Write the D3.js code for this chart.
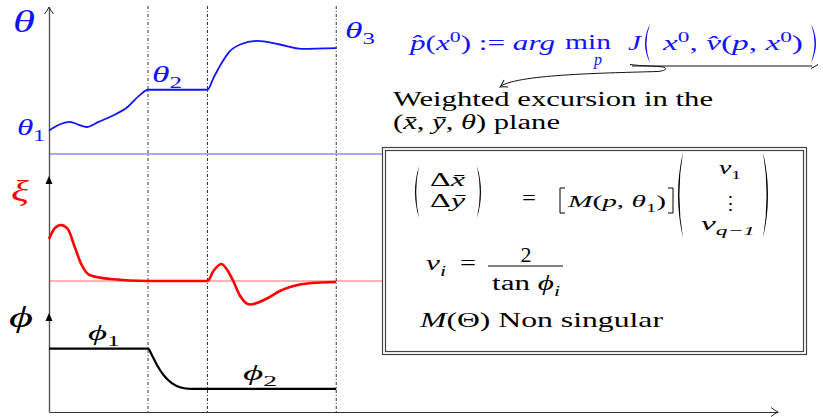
<!DOCTYPE html>
<html><head><meta charset="utf-8">
<script src="https://cdn.jsdelivr.net/npm/d3@7"></script>
<style>html,body{margin:0;padding:0;background:#fff;}svg{display:block;}</style>
</head><body>
<svg id="c" width="823" height="417"></svg>
<script>
// switching instants t1, t2, t3 of the piecewise steering law
const switchTimes = [1.0, 1.6, 2.9];
const timeSpan = [0, 7.36];

// heading angle theta(t)
const thetaTime  = [0, 0.1, 0.21, 0.3, 0.38, 0.5, 0.62, 0.79, 0.92, 1.0, 1.6, 1.66, 1.74, 1.82, 1.93, 2.1, 2.33, 2.55, 2.9];
const thetaValue = [1.6, 2.0, 2.2, 2.0, 1.85, 2.2, 2.55, 3.2, 4.05, 4.4, 4.4, 5.2, 6.2, 7.0, 7.5, 7.75, 7.5, 7.2, 7.25];

// excursion xi(t)
const xiTime  = [0, 0.06, 0.12, 0.19, 0.26, 0.33, 0.41, 0.62, 1.0, 1.6, 1.66, 1.74, 1.8, 1.86, 1.93, 2.03, 2.2, 2.33, 2.45, 2.65, 2.9];
const xiValue = [4.2, 5.3, 5.6, 5.2, 3.4, 1.6, 0.6, 0.2, 0, 0, 1.0, 1.7, 1.1, 0, -1.5, -2.35, -1.75, -1.0, -0.55, -0.2, -0.1];

// steering angle phi(t)
const phiTime  = [0, 1.0, 1.04, 1.09, 1.16, 1.24, 1.33, 1.43, 2.9];
const phiValue = [6.6, 6.6, 5.9, 4.9, 3.8, 3.0, 2.55, 2.4, 2.4];

// level labels
const thetaLevels = [1.6, 4.4, 7.25];
const phiLevels = [6.6, 2.4];

const SERIF = "'Liberation Serif', 'DejaVu Serif', serif";
const BLUE = "#1212ff";
const svg = d3.select("#c");

const x = d3.scaleLinear().domain(timeSpan).range([49, 778]);
const yTheta = d3.scaleLinear().domain([0, 10]).range([154, 8]);
const yXi = d3.scaleLinear().domain([0, 10]).range([281, 181]);
const yPhi = d3.scaleLinear().domain([0, 10]).range([412, 316]);
const yAll = d3.scaleLinear().domain([0, 1]).range([412, 7]);

const line = (ys) => d3.line().x(d => x(d[0])).y(d => ys(d[1])).curve(d3.curveMonotoneX);
const zip = (a, b) => a.map((v, i) => [v, b[i]]);

// reference levels for theta and xi
svg.append("line").attr("x1", x(0)).attr("x2", 383).attr("y1", yTheta(0)).attr("y2", yTheta(0))
  .attr("stroke", "#8c8cff").attr("stroke-width", 1.6);
svg.append("line").attr("x1", x(0)).attr("x2", 383).attr("y1", yXi(0)).attr("y2", yXi(0))
  .attr("stroke", "#ff9a9a").attr("stroke-width", 1.6);

// switching instants
svg.selectAll("line.sw").data(switchTimes).join("line").attr("class", "sw")
  .attr("x1", d => x(d)).attr("x2", d => x(d)).attr("y1", 6).attr("y2", 412)
  .attr("stroke", "#333").attr("stroke-width", 1).attr("stroke-dasharray", "3,2,1,2");

// axes
svg.append("g").attr("transform", `translate(0,${yAll(0)})`)
  .call(d3.axisBottom(x).ticks(0).tickSizeOuter(0))
  .call(g => g.select(".domain").attr("stroke", "#333").attr("stroke-width", 1));
svg.append("g").attr("transform", `translate(${x(0)},0)`)
  .call(d3.axisLeft(yAll).ticks(0).tickSizeOuter(0))
  .call(g => g.select(".domain").attr("stroke", "#555").attr("stroke-width", 1.4));

// open arrow tips
function openTip(px, py, angle) {
  svg.append("path").attr("d", "M-7,-4.5 Q-2.5,-1 0,0 Q-2.5,1 -7,4.5")
    .attr("transform", `translate(${px},${py}) rotate(${angle})`)
    .attr("fill", "none").attr("stroke", "#222").attr("stroke-width", 1);
}
openTip(x(timeSpan[1]), yAll(0), 0);
openTip(x(0), yAll(1), -90);
// filled tips of the xi and phi axes
[yXi(10.2), yPhi(10)].forEach(py => {
  svg.append("path").attr("d", `M${x(0)},${py - 3} l-3.5,8 l7,0 z`).attr("fill", "#000");
});

// signals
svg.append("path").datum(zip(thetaTime, thetaValue)).attr("d", line(yTheta))
  .attr("fill", "none").attr("stroke", BLUE).attr("stroke-width", 1.8);
svg.append("path").datum(zip(xiTime, xiValue)).attr("d", line(yXi))
  .attr("fill", "none").attr("stroke", "#ff0000").attr("stroke-width", 2.6);
svg.append("path").datum(zip(phiTime, phiValue)).attr("d", line(yPhi))
  .attr("fill", "none").attr("stroke", "#000").attr("stroke-width", 2.2);

// math text helper: parts are [string, kind] with kind in i, r, isub, rsub, rsup
function mathText(g, px, py, parts, o) {
  const t = g.append("text").attr("x", px).attr("y", py).attr("font-size", o.size)
    .attr("fill", o.fill || "#000").attr("font-family", SERIF);
  if (o.anchor) t.attr("text-anchor", o.anchor);
  let shift = 0;
  parts.forEach(([s, k]) => {
    const ts = t.append("tspan").text(s);
    ts.attr("font-style", k.includes("i") ? "italic" : "normal");
    let target = 0, fs = null;
    if (k.includes("sub")) { target = o.size * 0.28; fs = o.size * 0.7; }
    if (k.includes("sup")) { target = -o.size * 0.38; fs = o.size * 0.7; }
    if (target - shift !== 0) ts.attr("dy", target - shift);
    shift = target;
    if (fs) ts.attr("font-size", fs);
  });
  if (o.len) t.attr("textLength", o.len).attr("lengthAdjust", "spacingAndGlyphs");
  return t;
}

// parenthesis drawn as a crescent
function paren(g, xo, y0, y1, side, bulge, thick, fill) {
  const mid = (y0 + y1) / 2;
  const s = side === "left" ? 1 : -1;
  const xe = xo + s * bulge;
  const c1 = xo - s * bulge;
  const c2 = xo - s * bulge + s * 2 * thick;
  g.append("path")
    .attr("d", `M${xe},${y0} Q${c1},${mid} ${xe},${y1} Q${c2},${mid} ${xe},${y0} Z`)
    .attr("fill", fill || "#000");
}
function bracket(g, xo, y0, y1, side) {
  const s = side === "left" ? 1 : -1;
  g.append("path").attr("d", `M${xo + s * 5},${y0} H${xo} V${y1} H${xo + s * 5}`)
    .attr("fill", "none").attr("stroke", "#000").attr("stroke-width", 1);
}

// axis labels
mathText(svg, 13, 32, [["θ", "i"]], { size: 32, fill: BLUE, len: 22 });
mathText(svg, 11, 201, [["ξ", "i"]], { size: 29, fill: "#ff0000", len: 18 });
mathText(svg, 9, 327, [["ϕ", "i"]], { size: 30, len: 24 });

// level labels
mathText(svg, 17, yTheta(thetaLevels[0]) + 4, [["θ", "i"], ["1", "rsub"]], { size: 23, fill: BLUE, len: 28 });
mathText(svg, 152, yTheta(thetaLevels[1]) - 8, [["θ", "i"], ["2", "rsub"]], { size: 23, fill: BLUE, len: 30 });
mathText(svg, 345, 38, [["θ", "i"], ["3", "rsub"]], { size: 23, fill: BLUE, len: 30 });
mathText(svg, 88, yPhi(phiLevels[0]) - 9, [["ϕ", "i"], ["1", "rsub"]], { size: 22, len: 32 });
mathText(svg, 243, yPhi(phiLevels[1]) - 9, [["ϕ", "i"], ["2", "rsub"]], { size: 22, len: 34 });

// optimal parameter definition
const formula = svg.append("g");
mathText(formula, 410, 50, [["p\u0302", "i"], ["(", "r"], ["x", "i"], ["0", "rsup"], [") := ", "r"], ["arg", "i"]],
  { size: 21, fill: BLUE, len: 145 });
mathText(formula, 565, 49, [["min", "r"]], { size: 21, fill: BLUE, len: 46 });
mathText(formula, 598, 65, [["p", "i"]], { size: 16, fill: BLUE, anchor: "middle" });
mathText(formula, 628, 50, [["J", "i"]], { size: 22, fill: BLUE, len: 13 });
paren(formula, 645, 24, 63, "left", 5, 1.5, BLUE);
mathText(formula, 663, 50, [["x", "i"], ["0", "rsup"], [", ", "r"], ["v\u0302", "i"], ["(", "r"], ["p", "i"], [", ", "r"], ["x", "i"], ["0", "rsup"], [")", "r"]],
  { size: 21, fill: BLUE, len: 140 });
paren(formula, 816, 24, 63, "right", 5, 1.5, BLUE);

// brace under J's arguments and its pointer
formula.append("path").attr("d", "M632,66 H812 M811,68.5 L818,64.5")
  .attr("fill", "none").attr("stroke", "#111").attr("stroke-width", 1);
formula.append("path").attr("d", "M630,64.5 C640,66 656,66 663,67 C668,68 666,71 657,71.5")
  .attr("fill", "none").attr("stroke", "#111").attr("stroke-width", 1);
formula.append("path").attr("d", "M657,71.5 C610,73 520,74 501,86")
  .attr("fill", "none").attr("stroke", "#111").attr("stroke-width", 1);
formula.append("path").attr("d", "M-7,-4 Q-2.5,-1 0,0 Q-2.5,1 -7,4")
  .attr("transform", "translate(500,87) rotate(150)")
  .attr("fill", "none").attr("stroke", "#111").attr("stroke-width", 1);

mathText(svg, 393, 106, [["Weighted excursion in the", "r"]], { size: 20, len: 320 });
mathText(svg, 393, 129, [["(", "r"], ["x\u0304", "i"], [", ", "r"], ["y\u0304", "i"], [", ", "r"], ["θ", "i"], [") plane", "r"]],
  { size: 20, len: 167 });

// boxed relations
const box = svg.append("g");
box.append("rect").attr("x", 382.5).attr("y", 147.5).attr("width", 424).attr("height", 207)
  .attr("fill", "#fff").attr("stroke", "#444").attr("stroke-width", 1.2);
box.append("rect").attr("x", 385.5).attr("y", 150.5).attr("width", 418).attr("height", 201)
  .attr("fill", "none").attr("stroke", "#444").attr("stroke-width", 1.2);

paren(box, 415, 166, 218, "left", 4, 1.2);
mathText(box, 430, 186, [["Δ", "r"], ["x\u0304", "i"]], { size: 19, len: 35 });
mathText(box, 430, 207, [["Δ", "r"], ["y\u0304", "i"]], { size: 19, len: 35 });
paren(box, 481, 166, 218, "right", 4, 1.2);
mathText(box, 522, 205, [["=", "r"]], { size: 21, len: 14 });
bracket(box, 560, 188, 213, "left");
mathText(box, 568, 207, [["M", "i"], ["(", "r"], ["p", "i"], [", ", "r"], ["θ", "i"], ["1", "rsub"], [")", "r"]], { size: 17, len: 98 });
bracket(box, 673, 188, 213, "right");
paren(box, 678, 152, 238, "left", 5, 1.4);
mathText(box, 730, 174, [["v", "i"], ["1", "rsub"]], { size: 19, anchor: "middle", len: 22 });
mathText(box, 730, 210, [["⋮", "r"]], { size: 19, anchor: "middle" });
mathText(box, 728, 230, [["v", "i"], ["q−1", "isub"]], { size: 19, anchor: "middle", len: 54 });
paren(box, 768, 152, 238, "right", 5, 1.4);

mathText(box, 426, 270, [["v", "i"], ["i", "isub"]], { size: 22, len: 20 });
mathText(box, 460, 270, [["=", "r"]], { size: 22, len: 16 });
mathText(box, 526, 262, [["2", "r"]], { size: 21, anchor: "middle", len: 11 });
box.append("line").attr("x1", 488).attr("x2", 563).attr("y1", 266).attr("y2", 266)
  .attr("stroke", "#000").attr("stroke-width", 1);
mathText(box, 526, 290, [["tan ", "r"], ["ϕ", "i"], ["i", "isub"]], { size: 20, anchor: "middle", len: 68 });

mathText(box, 420, 327, [["M", "i"], ["(Θ) Non singular", "r"]], { size: 21, len: 243 });
</script>
</body></html>
